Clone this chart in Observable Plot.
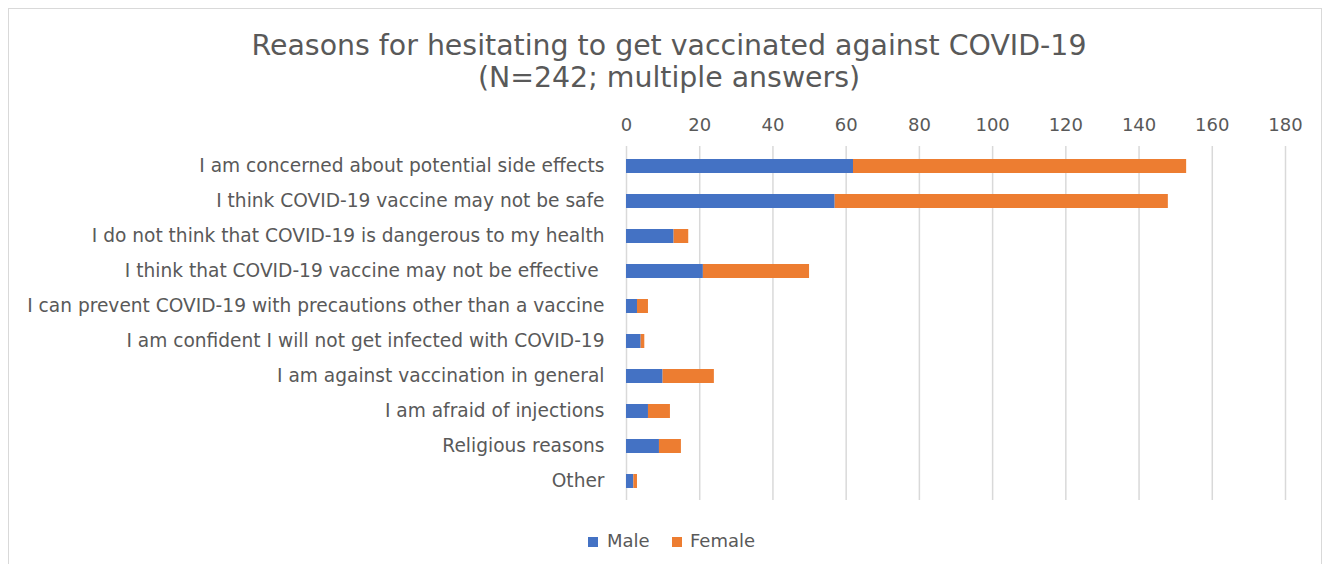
<!DOCTYPE html>
<html>
<head>
<meta charset="utf-8">
<script src="https://cdn.jsdelivr.net/npm/d3@7"></script>
<script src="https://cdn.jsdelivr.net/npm/@observablehq/plot@0.6"></script>
<style>
  html, body { margin: 0; padding: 0; background: #fff; }
  body { width: 1331px; height: 564px; position: relative; overflow: hidden; font-family: "DejaVu Sans", sans-serif; }
  #frame { position: absolute; left: 8px; top: 8px; width: 1314px; height: 600px; border: 1px solid #d9d9d9; box-sizing: border-box; }
  #title { position: absolute; left: 0; top: 30px; width: 1338px; text-align: center; color: #595959;
           font-family: "DejaVu Sans", sans-serif; font-size: 28.4px; line-height: 32px; }
  #chart { position: absolute; left: 0; top: 100px; }
  #legend { position: absolute; top: 530px; left: 0; width: 1331px; color: #595959; font-size: 18px; font-family: "DejaVu Sans", sans-serif; }
  .sw { position: absolute; top: 7px; width: 10px; height: 10px; }
  .lt { position: absolute; top: 0px; line-height: 22px; }
</style>
</head>
<body>
<div id="frame"></div>
<div id="title">Reasons for hesitating to get vaccinated against COVID-19<br>(N=242; multiple answers)</div>
<div id="chart"></div>
<div id="legend">
  <div class="sw" style="left:588px;background:#4472C4"></div><div class="lt" style="left:607px">Male</div>
  <div class="sw" style="left:672px;background:#ED7D31"></div><div class="lt" style="left:690px">Female</div>
</div>
<script>
const reasons = [
  "I am concerned about potential side effects",
  "I think COVID-19 vaccine may not be safe",
  "I do not think that COVID-19 is dangerous to my health",
  "I think that COVID-19 vaccine may not be effective\u00a0",
  "I can prevent COVID-19 with precautions other than a vaccine",
  "I am confident I will not get infected with COVID-19",
  "I am against vaccination in general",
  "I am afraid of injections",
  "Religious reasons",
  "Other"
];
const male   = [62, 57, 13, 21, 3, 4, 10, 6, 9, 2];
const female = [91, 91, 4, 29, 3, 1, 14, 6, 6, 1];
const series = ["Male", "Female"];
const colors = ["#4472C4", "#ED7D31"];
const xTicks = [0, 20, 40, 60, 80, 100, 120, 140, 160, 180];

const rows = [];
reasons.forEach((r, i) => {
  rows.push({reason: r, sex: "Male", value: male[i]});
  rows.push({reason: r, sex: "Female", value: female[i]});
});

const chart = Plot.plot({
  width: 1331,
  height: 420,
  marginLeft: 626,
  marginRight: 46,
  marginTop: 46,
  marginBottom: 20,
  style: {fontFamily: "DejaVu Sans, sans-serif", fontSize: "18px", color: "#595959", background: "transparent"},
  x: {domain: [0, 180], label: null},
  y: {domain: reasons, label: null, paddingInner: 0.6, paddingOuter: 0.32},
  color: {domain: series, range: colors},
  marks: [
    Plot.gridX(xTicks, {stroke: "#d9d9d9", strokeOpacity: 1, strokeWidth: 1.5}),
    Plot.axisX(xTicks, {anchor: "top", tickSize: 0, tickPadding: 16, fontSize: 18, fill: "#595959", tickFormat: d => String(d)}),
    Plot.axisY({anchor: "left", tickSize: 0, tickPadding: 22, fontSize: 18.6, fill: "#595959"}),
    Plot.barX(rows, Plot.stackX({x: "value", y: "reason", fill: "sex", order: series}))
  ]
});
document.getElementById("chart").appendChild(chart);
</script>
</body>
</html>
